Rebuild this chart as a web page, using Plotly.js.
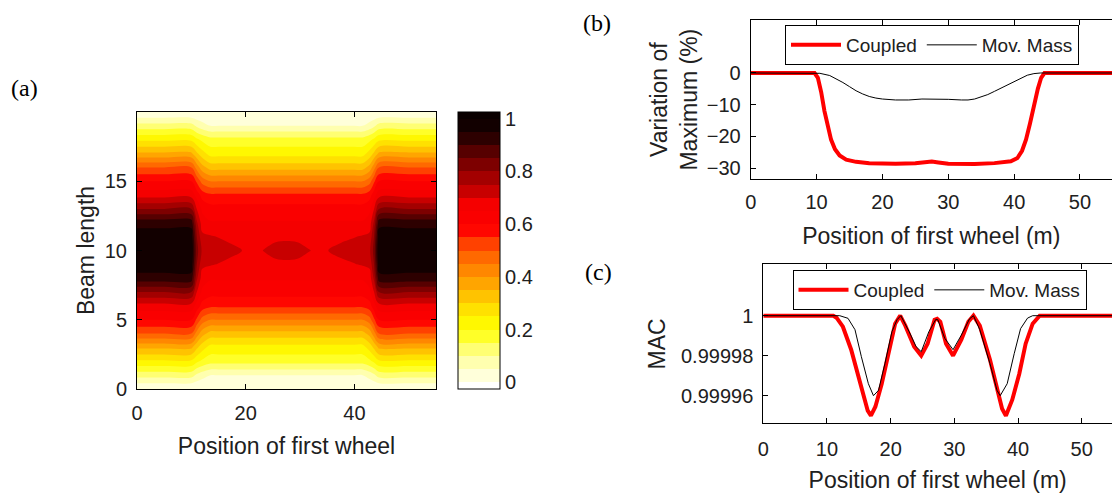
<!DOCTYPE html>
<html><head><meta charset="utf-8">
<script src="https://cdn.plot.ly/plotly-3.0.1.min.js"></script>
<style>html,body{margin:0;padding:0;background:#fff;} #chart{width:1112px;height:493px;}</style>
</head><body><div id="chart"></div>
<script>
// ---------- (a) field: beam length (rows) x position of first wheel (columns)
const fieldY = [0,1,2,3,4,5,6,7,8,9,10,11,12,13,14,15,16,17,18,19,20];
const fieldX = [0, 5, 10, 11, 12, 13.5, 15, 17, 19.5, 22, 23.5, 25.5, 27.5, 29.5, 31.5, 33.5, 35, 37.5, 40, 41.5, 42.8, 43.6, 44.5, 50, 55];
// one column per fieldX entry, values for fieldY = 0..20
const fieldColumns = [
  [0,0.12,0.24,0.36,0.5,0.6,0.68,0.8,0.93,0.98,1,0.98,0.93,0.8,0.68,0.6,0.5,0.36,0.24,0.12,0],
  [0,0.12,0.24,0.36,0.5,0.6,0.68,0.8,0.93,0.98,1,0.98,0.93,0.8,0.68,0.6,0.5,0.36,0.24,0.12,0],
  [0,0.12,0.24,0.36,0.5,0.6,0.68,0.8,0.93,0.98,1,0.98,0.93,0.8,0.68,0.6,0.5,0.36,0.24,0.12,0],
  [0,0.09,0.21,0.31,0.43,0.54,0.63,0.7,0.76,0.8,0.82,0.8,0.76,0.7,0.63,0.54,0.43,0.31,0.21,0.09,0],
  [0,0.07,0.19,0.27,0.37,0.48,0.58,0.64,0.675,0.712,0.74,0.712,0.675,0.64,0.58,0.48,0.37,0.27,0.19,0.07,0],
  [0,0.05,0.17,0.23,0.33,0.45,0.56,0.62,0.655,0.705,0.73,0.705,0.655,0.62,0.56,0.45,0.33,0.23,0.17,0.05,0],
  [0,0.05,0.17,0.23,0.33,0.45,0.56,0.62,0.655,0.698,0.722,0.698,0.655,0.62,0.56,0.45,0.33,0.23,0.17,0.05,0],
  [0,0.05,0.17,0.23,0.33,0.45,0.56,0.62,0.655,0.69,0.712,0.69,0.655,0.62,0.56,0.45,0.33,0.23,0.17,0.05,0],
  [0,0.05,0.17,0.23,0.33,0.45,0.56,0.62,0.655,0.68,0.699,0.68,0.655,0.62,0.56,0.45,0.33,0.23,0.17,0.05,0],
  [0,0.05,0.17,0.23,0.33,0.45,0.56,0.62,0.655,0.675,0.69,0.675,0.655,0.62,0.56,0.45,0.33,0.23,0.17,0.05,0],
  [0,0.05,0.17,0.23,0.33,0.45,0.56,0.62,0.655,0.68,0.703,0.68,0.655,0.62,0.56,0.45,0.33,0.23,0.17,0.05,0],
  [0,0.05,0.17,0.23,0.33,0.45,0.56,0.62,0.655,0.688,0.718,0.688,0.655,0.62,0.56,0.45,0.33,0.23,0.17,0.05,0],
  [0,0.05,0.17,0.23,0.33,0.45,0.56,0.62,0.655,0.69,0.722,0.69,0.655,0.62,0.56,0.45,0.33,0.23,0.17,0.05,0],
  [0,0.05,0.17,0.23,0.33,0.45,0.56,0.62,0.655,0.688,0.718,0.688,0.655,0.62,0.56,0.45,0.33,0.23,0.17,0.05,0],
  [0,0.05,0.17,0.23,0.33,0.45,0.56,0.62,0.655,0.68,0.703,0.68,0.655,0.62,0.56,0.45,0.33,0.23,0.17,0.05,0],
  [0,0.05,0.17,0.23,0.33,0.45,0.56,0.62,0.655,0.675,0.69,0.675,0.655,0.62,0.56,0.45,0.33,0.23,0.17,0.05,0],
  [0,0.05,0.17,0.23,0.33,0.45,0.56,0.62,0.655,0.68,0.699,0.68,0.655,0.62,0.56,0.45,0.33,0.23,0.17,0.05,0],
  [0,0.05,0.17,0.23,0.33,0.45,0.56,0.62,0.655,0.69,0.712,0.69,0.655,0.62,0.56,0.45,0.33,0.23,0.17,0.05,0],
  [0,0.05,0.17,0.23,0.33,0.45,0.56,0.62,0.655,0.698,0.722,0.698,0.655,0.62,0.56,0.45,0.33,0.23,0.17,0.05,0],
  [0,0.05,0.17,0.23,0.33,0.45,0.56,0.62,0.655,0.705,0.73,0.705,0.655,0.62,0.56,0.45,0.33,0.23,0.17,0.05,0],
  [0,0.07,0.19,0.27,0.37,0.48,0.58,0.64,0.675,0.712,0.74,0.712,0.675,0.64,0.58,0.48,0.37,0.27,0.19,0.07,0],
  [0,0.09,0.21,0.31,0.43,0.54,0.63,0.7,0.76,0.8,0.82,0.8,0.76,0.7,0.63,0.54,0.43,0.31,0.21,0.09,0],
  [0,0.12,0.24,0.36,0.5,0.6,0.68,0.8,0.93,0.98,1,0.98,0.93,0.8,0.68,0.6,0.5,0.36,0.24,0.12,0],
  [0,0.12,0.24,0.36,0.5,0.6,0.68,0.8,0.93,0.98,1,0.98,0.93,0.8,0.68,0.6,0.5,0.36,0.24,0.12,0],
  [0,0.12,0.24,0.36,0.5,0.6,0.68,0.8,0.93,0.98,1,0.98,0.93,0.8,0.68,0.6,0.5,0.36,0.24,0.12,0]
];
const fieldXTicks = [0, 20, 40];
const fieldYTicks = [0, 5, 10, 15];
const cbarTicks = [0, 0.2, 0.4, 0.6, 0.8, 1];
const cbarTickText = ['0', '0.2', '0.4', '0.6', '0.8', '1'];
// colour stops (value, colour) of the reversed "hot" map
const colourStopValues = [0, 0.05, 0.1, 0.15, 0.2, 0.25, 0.3, 0.35, 0.4, 0.45, 0.5, 0.55, 0.58, 0.68, 0.72, 0.76, 0.8, 0.85, 0.9, 0.95, 1];
const colourStopColours = ['#ffffff','#ffffc8','#ffff96','#ffff50','#ffff00','#fff000','#ffd200','#ffb400','#ff9600','#ff7800','#ff5a00','#ff2800','#ff0000','#f40000','#cc0000','#ae0000','#900000','#6a0000','#440000','#160000','#0a0000'];

// ---------- (b) variation of maximum (%)
const bCoupledX = [0, 9.7, 10.2, 10.7, 11.2, 11.7, 12.2, 12.8, 13.5, 14.5, 16, 18, 20, 22, 25, 26.5, 27.5, 28.5, 30, 34, 37, 39.5, 40.5, 41.2, 41.8, 42.4, 43, 43.6, 44.1, 44.6, 55];
const bCoupledY = [0, 0, -1.5, -6, -12, -17, -21, -24, -26, -27.3, -28, -28.4, -28.6, -28.6, -28.4, -28.2, -27.9, -28.2, -28.6, -28.7, -28.4, -27.8, -26.8, -24.5, -21, -16, -10, -5, -1.5, 0, 0];
const bMassX = [0, 9.5, 10.5, 12, 13, 14, 15, 16, 17, 18, 19, 20, 22, 24, 26, 28, 30, 32, 33, 34, 35, 36, 37, 38, 39, 40, 41, 42, 43, 44, 55];
const bMassY = [0, 0, -0.1, -0.8, -1.8, -3, -4.3, -5.6, -6.6, -7.4, -7.9, -8.2, -8.5, -8.5, -8.2, -8.2, -8.3, -8.5, -8.5, -8.2, -7.6, -6.8, -5.8, -4.8, -3.8, -2.7, -1.6, -0.7, -0.2, 0, 0];
const bYTicks = [-30, -20, -10, 0];

// ---------- (c) MAC
const cCoupledX = [0, 11, 11.5, 12.5, 13.8, 14.9, 15.7, 16.4, 16.9, 17.6, 18.6, 19.7, 20.7, 21.5, 22.3, 23.7, 24.8, 25.8, 26.9, 27.3, 27.8, 28.7, 29.8, 31.1, 32.2, 33.0, 34.0, 35.6, 36.7, 37.5, 38.1, 39.1, 40.2, 41.2, 42.3, 43.4, 55];
const cCoupledY = [1, 1, 0.999999, 0.9999945, 0.999983, 0.9999695, 0.9999595, 0.9999525, 0.99995, 0.9999545, 0.999966, 0.999983, 0.999996, 1.0, 0.999995, 0.9999845, 0.99998, 0.999986, 0.999998, 0.9999985, 0.999997, 0.999986, 0.99998, 0.999988, 0.999997, 1.0, 0.999995, 0.999978, 0.999963, 0.9999535, 0.99995, 0.999958, 0.999971, 0.999986, 0.999996, 1.0, 1];
const cMassX = [0, 12, 13.3, 14.4, 15.4, 16.5, 17.3, 18.1, 19.1, 20.2, 21.0, 21.6, 22.9, 24.0, 24.8, 26.0, 27.1, 27.4, 28.5, 29.8, 31.1, 32.4, 33.0, 34.0, 35.6, 36.7, 37.2, 38.3, 39.4, 40.4, 41.5, 42.3, 55];
const cMassY = [1, 1, 0.9999987, 0.999993, 0.9999795, 0.999966, 0.99996, 0.9999627, 0.999976, 0.999992, 0.999998, 1.0, 0.999992, 0.9999845, 0.999982, 0.999992, 0.9999982, 0.999998, 0.9999887, 0.999983, 0.9999903, 0.9999985, 1.0, 0.999993, 0.999976, 0.9999627, 0.99996, 0.999966, 0.999981, 0.9999935, 0.9999988, 1.0, 1];
const cYTicks = [0.99996, 0.99998, 1];
const cYTickText = ['0.99996', '0.99998', '1'];
const lineXTicks = [0, 10, 20, 30, 40, 50];

const seriesNames = ['Coupled', 'Mov. Mass'];

// ---------- build
const fieldZ = fieldY.map((_, i) => fieldColumns.map(col => col[i]));
const cStart = 0, cEnd = 1, cSize = 0.05;
const colorscale = colourStopValues.map((v, k) => {
  let s = (v + cSize / 2) / (cEnd - cStart + cSize);
  if (k === 0) s = 0;
  if (k === colourStopValues.length - 1) s = 1;
  return [Math.min(1, Math.max(0, s)), colourStopColours[k]];
});

const FONT = '"Liberation Sans", Arial, sans-serif';
const SERIF = '"Liberation Serif", "Times New Roman", serif';
const TXT = '#202020';
const tickFont = {family: FONT, size: 20, color: TXT};
const titleFont = {family: FONT, size: 23, color: TXT};

const W = 1112, H = 493;
const px = v => v / W;
const py = v => 1 - v / H;

const axisBase = {
  showline: true, linecolor: '#000', linewidth: 1, ticks: 'inside', ticklen: 5,
  tickcolor: '#000', showgrid: false, zeroline: false, tickfont: tickFont, fixedrange: true
};

const traces = [
  {
    type: 'contour', x: fieldX, y: fieldY, z: fieldZ, xaxis: 'x', yaxis: 'y',
    colorscale: colorscale,
    contours: {start: cStart, end: cEnd, size: cSize, coloring: 'fill', showlines: false},
    line: {width: 0, smoothing: 1},
    hoverinfo: 'skip',
    colorbar: {
      x: px(458), xanchor: 'left', xpad: 0, y: py(389), yanchor: 'bottom', ypad: 0,
      thickness: 42, thicknessmode: 'pixels', len: 277, lenmode: 'pixels',
      outlinewidth: 1, outlinecolor: '#000',
      tickvals: cbarTicks, ticktext: cbarTickText, ticks: '', tickfont: tickFont
    }
  },
  {type: 'scatter', mode: 'lines', x: bCoupledX, y: bCoupledY, xaxis: 'x2', yaxis: 'y2',
   name: seriesNames[0], legend: 'legend', line: {color: '#ff0000', width: 4}, hoverinfo: 'skip'},
  {type: 'scatter', mode: 'lines', x: bMassX, y: bMassY, xaxis: 'x2', yaxis: 'y2',
   name: seriesNames[1], legend: 'legend', line: {color: '#000', width: 1}, hoverinfo: 'skip'},
  {type: 'scatter', mode: 'lines', x: cCoupledX, y: cCoupledY, xaxis: 'x3', yaxis: 'y3',
   name: seriesNames[0], legend: 'legend2', line: {color: '#ff0000', width: 4}, hoverinfo: 'skip'},
  {type: 'scatter', mode: 'lines', x: cMassX, y: cMassY, xaxis: 'x3', yaxis: 'y3',
   name: seriesNames[1], legend: 'legend2', line: {color: '#000', width: 1}, hoverinfo: 'skip'}
];

const legendBase = {
  orientation: 'h', xanchor: 'left', yanchor: 'top', bgcolor: '#fff',
  bordercolor: '#000', borderwidth: 1, font: {family: FONT, size: 19, color: TXT},
  itemwidth: 50, tracegroupgap: 0
};

const layout = {
  width: W, height: H, autosize: false,
  margin: {l: 0, r: 0, t: 0, b: 0},
  paper_bgcolor: '#fff', plot_bgcolor: '#fff',
  xaxis: Object.assign({}, axisBase, {
    domain: [px(137), px(436)], range: [0, 55], tickvals: fieldXTicks, anchor: 'y', mirror: 'ticks',
    ticklabelstandoff: 6,
    title: {text: 'Position of first wheel', font: titleFont, standoff: 14}
  }),
  yaxis: Object.assign({}, axisBase, {
    domain: [py(389), py(112)], range: [0, 20], tickvals: fieldYTicks, anchor: 'x', mirror: 'ticks',
    ticklabelstandoff: 5,
    title: {text: 'Beam length', font: titleFont, standoff: 3}
  }),
  xaxis2: Object.assign({}, axisBase, {
    domain: [px(750.7), 1], range: [0, 54.86], tickvals: lineXTicks, anchor: 'y2', mirror: 'ticks',
    ticklabelstandoff: 5,
    title: {text: 'Position of first wheel (m)', font: titleFont, standoff: 15}
  }),
  yaxis2: Object.assign({}, axisBase, {
    domain: [py(179), py(20.3)], range: [-33.4, 16.6], tickvals: bYTicks, anchor: 'x2', mirror: false,
    ticklabelstandoff: 5,
    title: {text: 'Variation of<br>Maximum (%)', font: titleFont, standoff: 2}
  }),
  xaxis3: Object.assign({}, axisBase, {
    domain: [px(763.3), 1], range: [0, 54.76], tickvals: lineXTicks, anchor: 'y3', mirror: 'ticks',
    ticklabelstandoff: 8,
    title: {text: 'Position of first wheel (m)', font: titleFont, standoff: 20}
  }),
  yaxis3: Object.assign({}, axisBase, {
    domain: [py(423.3), py(264.3)], range: [0.9999462, 1.0000257], tickvals: cYTicks, ticktext: cYTickText,
    anchor: 'x3', mirror: false, ticklabelstandoff: 5,
    title: {text: 'MAC', font: titleFont, standoff: 8}
  }),
  legend: Object.assign({}, legendBase, {x: px(785), y: py(25)}),
  legend2: Object.assign({}, legendBase, {x: px(792.5), y: py(270)}),
  annotations: [
    {text: '(a)', x: px(24), y: py(88), xref: 'paper', yref: 'paper', xanchor: 'center', yanchor: 'middle', showarrow: false, font: {family: SERIF, size: 24, color: '#000'}},
    {text: '(b)', x: px(597), y: py(23), xref: 'paper', yref: 'paper', xanchor: 'center', yanchor: 'middle', showarrow: false, font: {family: SERIF, size: 24, color: '#000'}},
    {text: '(c)', x: px(598), y: py(272), xref: 'paper', yref: 'paper', xanchor: 'center', yanchor: 'middle', showarrow: false, font: {family: SERIF, size: 24, color: '#000'}}
  ]
};

Plotly.newPlot('chart', traces, layout, {staticPlot: true, displayModeBar: false});
</script></body></html>
